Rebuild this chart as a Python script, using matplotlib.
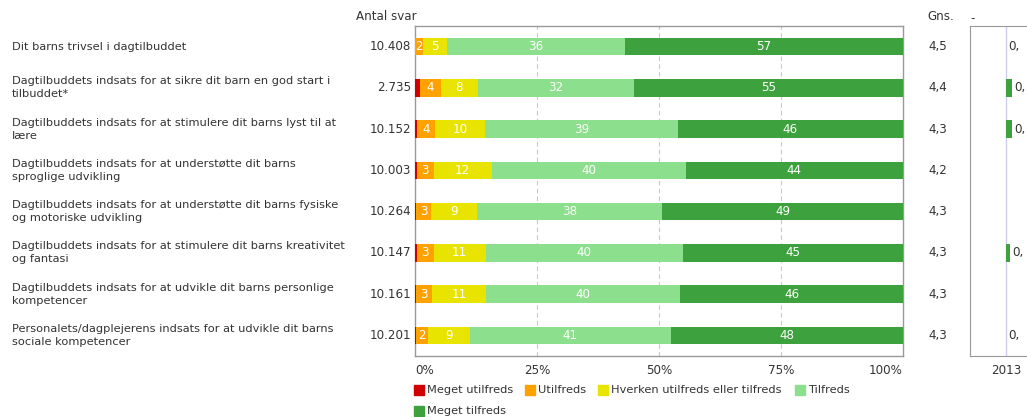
import matplotlib
matplotlib.use("Agg")
import matplotlib.pyplot as plt
from matplotlib.patches import Rectangle
from matplotlib.transforms import blended_transform_factory
import numpy as np

plt.rcParams['font.family'] = ['DejaVu Sans']

# data
questions = [
    "Dit barns trivsel i dagtilbuddet",
    "Dagtilbuddets indsats for at sikre dit barn en god start i\ntilbuddet*",
    "Dagtilbuddets indsats for at stimulere dit barns lyst til at\nlære",
    "Dagtilbuddets indsats for at understøtte dit barns\nsproglige udvikling",
    "Dagtilbuddets indsats for at understøtte dit barns fysiske\nog motoriske udvikling",
    "Dagtilbuddets indsats for at stimulere dit barns kreativitet\nog fantasi",
    "Dagtilbuddets indsats for at udvikle dit barns personlige\nkompetencer",
    "Personalets/dagplejerens indsats for at udvikle dit barns\nsociale kompetencer",
]
antal_svar = ["10.408", "2.735", "10.152", "10.003", "10.264", "10.147", "10.161", "10.201"]
gns = ["4,5", "4,4", "4,3", "4,2", "4,3", "4,3", "4,3", "4,3"]

categories = ["Meget utilfreds", "Utilfreds", "Hverken utilfreds eller tilfreds",
              "Tilfreds", "Meget tilfreds"]
meget_utilfreds = [0.0, 1.0, 0.4, 0.4, 0.2, 0.4, 0.2, 0.2]
utilfreds = [1.7, 4.3, 3.8, 3.4, 3.1, 3.4, 3.3, 2.4]
hverken = [4.9, 7.6, 10.2, 11.9, 9.4, 10.7, 11.1, 8.7]
tilfreds = [36.4, 32.0, 39.4, 39.8, 38.0, 40.4, 39.8, 41.1]
meget_tilfreds = [57.0, 55.1, 46.2, 44.5, 49.3, 45.1, 45.6, 47.6]
colors = ["#d00000", "#ffa200", "#e8e400", "#8cdf8c", "#3da23d"]

# small right panel (2013), only partly visible in the reference
diff_2013 = [0.0, 0.3, 0.3, None, None, 0.2, None, 0.0]
diff_labels = ["0,", "0,", "0,", "", "", "0,", "", "0,"]

W, H = 1027, 417
TXT = "#333333"
FS = 8.2   # labels, legend
FN = 8.6   # numbers

fig = plt.figure(figsize=(W / 100, H / 100), dpi=100)

def fx(px):
    return px / W

def fy(px):
    return 1 - px / H

# main stacked bar axes
ax = fig.add_axes([fx(415), fy(356), fx(903) - fx(415), fy(26) - fy(356)])
series = [meget_utilfreds, utilfreds, hverken, tilfreds, meget_tilfreds]
y = np.arange(len(questions))
left = np.zeros(len(questions))
for vals, col in zip(series, colors):
    vals = np.array(vals)
    ax.barh(y, vals, left=left, height=0.43, color=col, edgecolor='none', zorder=3)
    for i, v in enumerate(vals):
        if v >= 1.5:
            ax.text(left[i] + v / 2, y[i], f"{v:.0f}", ha='center', va='center',
                    color='white', fontsize=FN, zorder=4)
    left += vals

ax.set_xlim(0, 100)
ax.set_ylim(len(questions) - 0.5, -0.5)
ax.set_yticks([])
ax.set_xticks([0, 25, 50, 75, 100])
ax.set_xticklabels(["0%", "25%", "50%", "75%", "100%"], fontsize=FN, color=TXT)
ax.tick_params(axis='x', length=0, pad=6)
labs = ax.get_xticklabels()
labs[0].set_ha('left')
labs[-1].set_ha('right')
for xv in [25, 50, 75]:
    ax.axvline(xv, color='#c8c8c8', linestyle=(0, (4, 3)), linewidth=0.8, zorder=1)
for s in ax.spines.values():
    s.set_color('#999999')
    s.set_linewidth(1)

tr = blended_transform_factory(fig.transFigure, ax.transData)
for i in range(len(questions)):
    fig.text(fx(12), i, questions[i], transform=tr, ha='left', va='center',
             fontsize=FS, color=TXT, linespacing=1.35)
    fig.text(fx(411), i, antal_svar[i], transform=tr, ha='right', va='center',
             fontsize=FN, color=TXT)
    fig.text(fx(938), i, gns[i], transform=tr, ha='center', va='center',
             fontsize=FN, color=TXT)

fig.text(fx(356), fy(16), "Antal svar", ha='left', va='center', fontsize=FN, color=TXT)
fig.text(fx(927), fy(16), "Gns.", ha='left', va='center', fontsize=FN, color=TXT)
fig.text(fx(970), fy(19), "-", ha='left', va='center', fontsize=FN, color=TXT)

# right panel
ax2 = fig.add_axes([fx(970), fy(356), fx(1090) - fx(970), fy(26) - fy(356)])
ax2.set_xlim(-1.8, 4.2)
ax2.set_ylim(len(questions) - 0.5, -0.5)
ax2.axvline(0, color='#ccccee', linewidth=1, zorder=1)
for i, v in enumerate(diff_2013):
    if v is None:
        continue
    if v > 0:
        ax2.barh(i, v, height=0.43, color=colors[4], edgecolor='none', zorder=3)
    ax2.text(v + 0.1, i, diff_labels[i], ha='left', va='center',
             fontsize=FN, color=TXT)
ax2.set_yticks([])
ax2.set_xticks([0])
ax2.set_xticklabels(["2013"], fontsize=FN, color=TXT)
ax2.tick_params(axis='x', length=0, pad=6)
for s in ax2.spines.values():
    s.set_color('#999999')

# legend drawn by hand
leg_pos = [(414, 390), (525, 390), (598, 390), (795, 390), (414, 411)]
for (px, py), name, col in zip(leg_pos, categories, colors):
    fig.patches.append(Rectangle((fx(px), fy(py + 5)), 10 / W, 10 / H, color=col,
                                 transform=fig.transFigure, figure=fig))
    fig.text(fx(px + 13), fy(py), name, ha='left', va='center', fontsize=FS, color=TXT)

fig.savefig("out.png", dpi=100)
